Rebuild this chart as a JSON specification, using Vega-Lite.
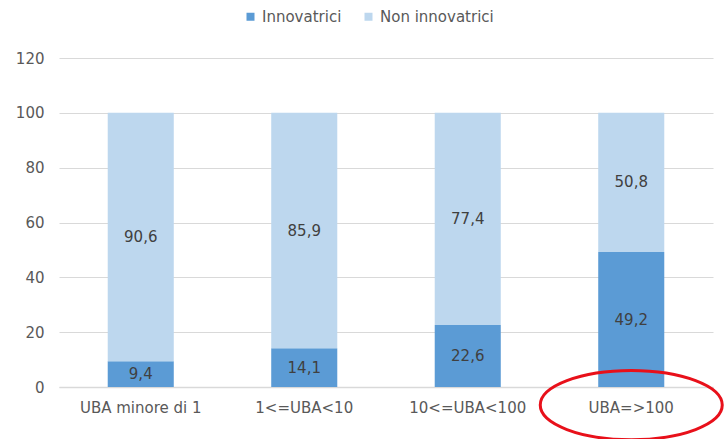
{
  "$schema": "https://vega.github.io/schema/vega-lite/v6.json",
  "autosize": "none",
  "width": 654,
  "height": 329,
  "padding": {"left": 59, "top": 58, "right": 14, "bottom": 52},
  "background": "white",
  "config": {
    "view": {"stroke": null},
    "font": "DejaVu Sans",
    "locale": {"number": {"decimal": ",", "thousands": ".", "grouping": [3], "currency": ["€", ""]}}
  },
  "datasets": {
    "bars": [
      {"classe": "UBA minore di 1", "tipo": "Innovatrici", "valore": 9.4},
      {"classe": "UBA minore di 1", "tipo": "Non innovatrici", "valore": 90.6},
      {"classe": "1<=UBA<10", "tipo": "Innovatrici", "valore": 14.1},
      {"classe": "1<=UBA<10", "tipo": "Non innovatrici", "valore": 85.9},
      {"classe": "10<=UBA<100", "tipo": "Innovatrici", "valore": 22.6},
      {"classe": "10<=UBA<100", "tipo": "Non innovatrici", "valore": 77.4},
      {"classe": "UBA=>100", "tipo": "Innovatrici", "valore": 49.2},
      {"classe": "UBA=>100", "tipo": "Non innovatrici", "valore": 50.8}
    ],
    "evidenza": [
      {"classe": "UBA=>100", "pos": -6.6}
    ]
  },
  "layer": [
    {
      "data": {"name": "bars"},
      "mark": {"type": "bar"},
      "encoding": {
        "x": {
          "field": "classe", "type": "nominal", "sort": null,
          "scale": {"paddingInner": 0.596, "paddingOuter": 0.298},
          "axis": {"title": null, "labelAngle": 0, "ticks": false, "domainColor": "#d9d9d9", "domainWidth": 1.5, "labelColor": "#595959", "labelFontSize": 15, "labelPadding": 13}
        },
        "y": {
          "field": "valore", "type": "quantitative", "stack": "zero",
          "scale": {"domain": [0, 120]},
          "axis": {"title": null, "values": [0, 20, 40, 60, 80, 100, 120], "domain": false, "ticks": false, "gridColor": "#d9d9d9", "gridWidth": 1.2, "labelColor": "#595959", "labelFontSize": 15, "labelPadding": 15}
        },
        "color": {
          "field": "tipo", "type": "nominal",
          "scale": {"domain": ["Innovatrici", "Non innovatrici"], "range": ["#5b9bd5", "#bdd7ee"]},
          "legend": {"title": null, "orient": "none", "direction": "horizontal", "legendX": 184, "legendY": -49, "symbolType": "square", "symbolSize": 64, "labelFontSize": 15, "labelColor": "#595959", "columnPadding": 19, "labelOffset": 4}
        },
        "order": {"field": "tipo", "sort": "ascending"}
      }
    },
    {
      "data": {"name": "bars"},
      "transform": [
        {"stack": "valore", "groupby": ["classe"], "as": ["v0", "v1"], "sort": [{"field": "tipo"}]},
        {"calculate": "(datum.v0 + datum.v1) / 2", "as": "mid"}
      ],
      "mark": {"type": "text", "fontSize": 15, "color": "#404040"},
      "encoding": {
        "x": {"field": "classe", "type": "nominal", "sort": null},
        "y": {"field": "mid", "type": "quantitative"},
        "text": {"field": "valore", "type": "quantitative", "format": ".1f"}
      }
    },
    {
      "data": {"name": "evidenza"},
      "mark": {"type": "point", "shape": "M-1,0A1,0.38,0,1,1,1,0A1,0.38,0,1,1,-1,0Z", "size": 33124, "stroke": "#e8101a", "strokeWidth": 3, "filled": false, "opacity": 1, "clip": false},
      "encoding": {
        "x": {"field": "classe", "type": "nominal", "sort": null},
        "y": {"field": "pos", "type": "quantitative"}
      }
    }
  ]
}
